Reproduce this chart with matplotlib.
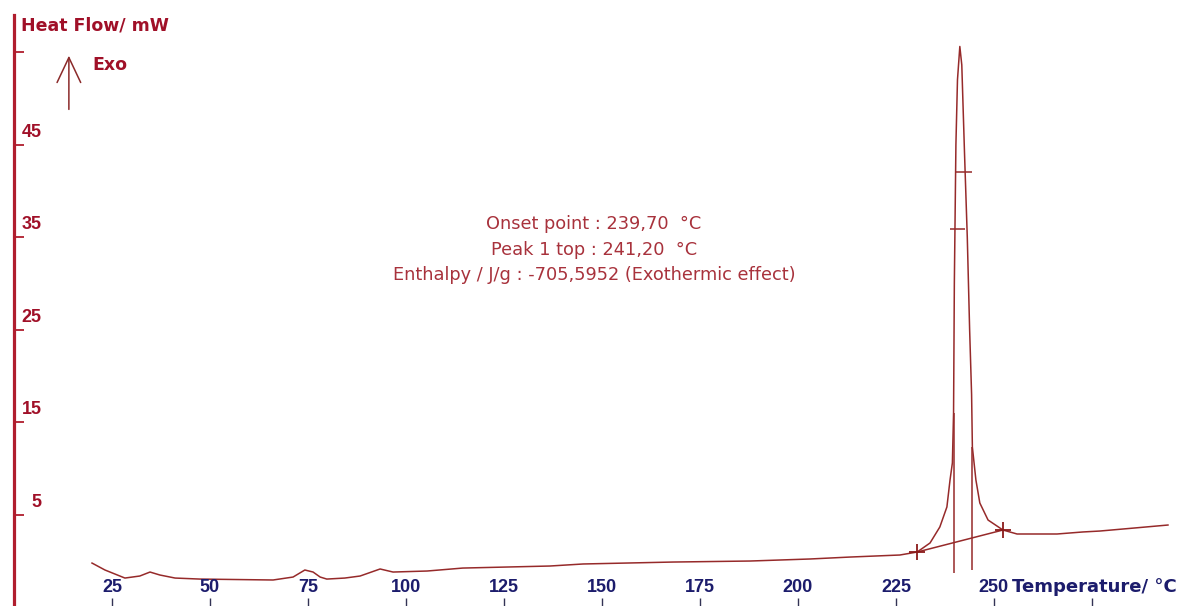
import matplotlib
matplotlib.use("Agg")
import matplotlib.pyplot as plt

# DSC curve (temperature in degC, heat flow in mW)
temp = [19.9, 23.2, 28.3, 32.1, 34.7, 37.2, 41.1, 47.4, 66.1, 71.2, 74.2, 76.3,
        78.1, 79.8, 84.4, 88.3, 93.4, 96.7, 105.4, 114.5, 136.7, 145.2, 168.1,
        187.8, 203.1, 213.3, 226.0, 230.4, 233.7, 236.2, 238.0, 238.8, 239.4,
        239.7, 239.9, 240.3, 240.7, 241.3, 241.8, 242.5, 243.2, 243.8, 244.3,
        244.5, 245.4, 246.4, 248.5, 252.3, 255.9, 266.1, 272.7, 277.0, 285.9, 294.4]
heat_flow = [-0.22, -0.97, -1.84, -1.62, -1.19, -1.51, -1.84, -1.95, -2.05, -1.73,
             -0.97, -1.19, -1.73, -1.95, -1.84, -1.62, -0.86, -1.19, -1.08, -0.76,
             -0.54, -0.32, -0.11, 0.0, 0.22, 0.43, 0.65, 0.97, 1.95, 3.68, 5.84,
             8.76, 10.6, 16.0, 30.0, 45.0, 52.0, 55.6, 53.6, 44.0, 35.0, 25.0,
             18.0, 12.3, 8.76, 6.27, 4.43, 3.35, 2.92, 2.92, 3.14, 3.24, 3.57, 3.89]

# peak construction: integration limits, onset / end verticals, marks on the peak
limit_t = [230.4, 252.3]
limit_hf = [0.97, 3.35]
vert_t = [239.7, 244.5]
vert_lo = [-1.3, -1.0]
vert_hi = [16.0, 12.3]
mark_t0 = [240.05, 238.8]
mark_t1 = [244.4, 242.6]
mark_hf = [42.05, 35.9]

xticks = [25, 50, 75, 100, 125, 150, 175, 200, 225, 250, 275]
xlabels = ["25", "50", "75", "100", "125", "150", "175", "200", "225", "250", ""]
yticks = [5, 15, 25, 35, 45, 55]
ylabels = ["5", "15", "25", "35", "45", ""]

info = ["Onset point : 239,70  \u00b0C",
        "Peak 1 top : 241,20  \u00b0C",
        "Enthalpy / J/g : -705,5952 (Exothermic effect)"]

RED = "#b01e2e"
CURVE = "#962a2a"
NAVY = "#1c1c6c"
TXT = "#a8323c"

fig = plt.figure(figsize=(11.86, 6.06), dpi=100)
ax = fig.add_axes([14 / 1186, 0, 1 - 14 / 1186, 591 / 606])
ax.set_xlim(0, 299)
ax.set_ylim(-4.86, 59.0)

for s in ["top", "right", "bottom"]:
    ax.spines[s].set_visible(False)
ax.spines["left"].set_color(RED)
ax.spines["left"].set_linewidth(2.3)

ax.plot(temp, heat_flow, color=CURVE, lw=1.1, zorder=3)
ax.plot(limit_t, limit_hf, color=CURVE, lw=1.1, zorder=3)
ax.plot(limit_t, limit_hf, "+", color="#8b1a1a", ms=12, mew=1.3, zorder=4)
ax.vlines(vert_t, vert_lo, vert_hi, color=CURVE, lw=1.1, zorder=3)
ax.hlines(mark_hf, mark_t0, mark_t1, color=CURVE, lw=1.1, zorder=3)

# ticks: x ticks sit at the bottom edge pointing up, y ticks point right
ax.set_xticks(xticks)
ax.set_xticklabels([])
ax.tick_params(axis="x", direction="in", length=6, width=1, color="#333355")
ax.set_yticks(yticks)
ax.set_yticklabels([])
ax.tick_params(axis="y", direction="in", length=7, width=1.3, color=RED)

for t, lab in zip(xticks, xlabels):
    ax.text(t, -3.35, lab, ha="center", va="baseline", color=NAVY,
            fontsize=13, fontweight="bold", family="Liberation Sans")
ax.text(254.6, -3.35, "Temperature/ \u00b0C", ha="left", va="baseline", color=NAVY,
        fontsize=13, fontweight="bold", family="DejaVu Sans")

ytr = ax.get_yaxis_transform()
for v, lab in zip(yticks, ylabels):
    ax.text(0.0235, v + 0.85, lab, transform=ytr, ha="right", va="baseline",
            color="#a01028", fontsize=13, fontweight="bold", family="Liberation Sans")

fig.text(21 / 1186, 1 - 25 / 606, "Heat Flow/ mW", ha="left", va="center",
         color="#a01028", fontsize=12.5, fontweight="bold", family="DejaVu Sans")
ax.text(20.0, 53.6, "Exo", ha="left", va="center", color="#a01028",
        fontsize=12.5, fontweight="bold", family="DejaVu Sans")
ax.annotate("", xy=(14.0, 54.6), xytext=(14.0, 48.8),
            arrowprops=dict(arrowstyle="->,head_length=1.8,head_width=0.85",
                            color="#8b2a2a", lw=1.1, mutation_scale=10,
                            shrinkA=0, shrinkB=0))

for i, line in enumerate(info):
    ax.text(148.0, 36.4 - i * 2.75, line, ha="center", va="center", color=TXT,
            fontsize=12.8, family="DejaVu Sans")

fig.savefig("out.png", dpi=100, facecolor="white")
